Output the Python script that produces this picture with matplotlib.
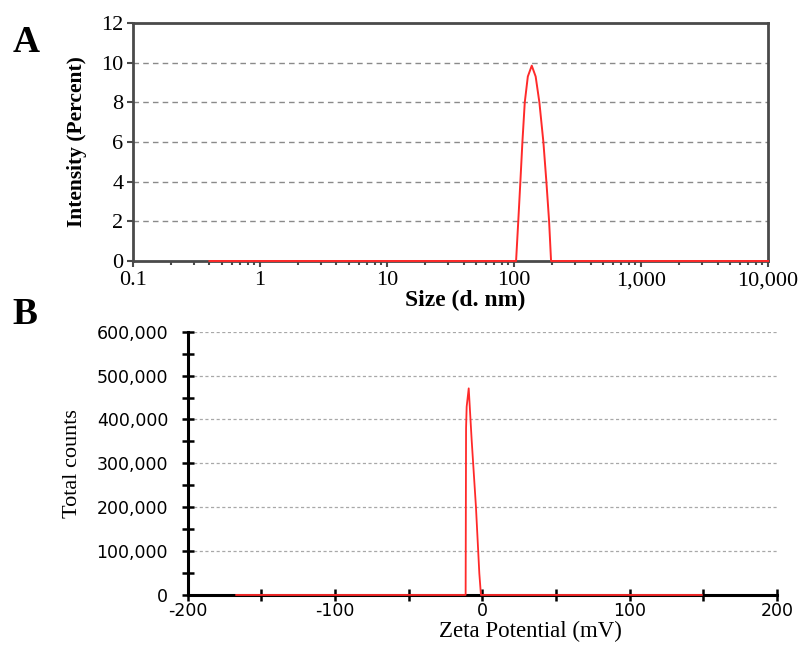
import numpy as np
import matplotlib
matplotlib.use('Agg')
import matplotlib.pyplot as plt
import matplotlib.ticker as ticker

plt.rcParams['axes.unicode_minus'] = False

# size distribution (d. nm vs intensity %)
size_nm = [0.4, 103.7, 108.1, 112.1, 116.3, 121.4, 128.3, 137.8, 147.9,
           158.2, 170.1, 179.6, 188.7, 195.5, 10000]
intensity = [0, 0, 2.1, 4.0, 6.0, 8.0, 9.3, 9.85, 9.3, 8.0, 6.0, 4.0, 2.0, 0, 0]

# zeta potential distribution (mV vs total counts)
zeta_mv = [-167, -11.3, -11.0, -10.6, -9.2, -7.2, -4.3, -2.0, -0.9, 149]
counts = [0, 0, 380000, 429000, 471000, 353000, 201000, 49000, 0, 0]

a_xticks = [0.1, 1, 10, 100, 1000, 10000]
a_xlabels = ['0.1', '1', '10', '100', '1,000', '10,000']
a_yticks = [0, 2, 4, 6, 8, 10, 12]
b_xticks = [-200, -100, 0, 100, 200]
b_yticks = [0, 100000, 200000, 300000, 400000, 500000, 600000]

serif = 'Liberation Serif'
red = '#ff2a2a'

fig = plt.figure(figsize=(8.05, 6.46), dpi=100)

# ---- panel A: size ----
ax1 = fig.add_axes([0.1652, 0.596, 0.789, 0.3684])
ax1.plot(size_nm, intensity, color=red, linewidth=1.4, zorder=3, clip_on=False)
ax1.set_xscale('log')
ax1.set_xlim(0.1, 10000)
ax1.set_ylim(0, 12)
ax1.set_xticks(a_xticks)
ax1.set_xticklabels(a_xlabels)
ax1.set_yticks(a_yticks)
ax1.xaxis.set_minor_locator(ticker.LogLocator(base=10, subs=np.arange(2, 10)))
ax1.xaxis.set_minor_formatter(ticker.NullFormatter())
for y in a_yticks[1:-1]:
    ax1.axhline(y, color='#8a8a8a', linestyle=(0, (4, 3)), linewidth=1.0, zorder=1)
for s in ax1.spines.values():
    s.set_color('#4a4a4a')
    s.set_linewidth(2.0)
ax1.tick_params(axis='both', which='major', direction='out', length=4, width=1.5,
                color='#4a4a4a')
ax1.tick_params(axis='x', which='major', pad=3.5)
ax1.tick_params(axis='y', which='major', pad=3)
ax1.tick_params(axis='x', which='minor', direction='out', length=3, width=1.5,
                color='#4a4a4a')
for lab in ax1.get_xticklabels() + ax1.get_yticklabels():
    lab.set_fontfamily(serif)
    lab.set_fontsize(16)
ax1.set_ylabel('Intensity (Percent)', fontfamily=serif, fontweight='bold', fontsize=15.5)
ax1.yaxis.set_label_coords(-0.072, 0.5)
ax1.set_xlabel('Size (d. nm)', fontfamily=serif, fontweight='bold', fontsize=17)
ax1.xaxis.set_label_coords(0.523, -0.122)

# ---- panel B: zeta potential ----
ax2 = fig.add_axes([0.233, 0.079, 0.7322, 0.4075])
ax2.plot(zeta_mv, counts, color=red, linewidth=1.3, zorder=3, clip_on=False)
ax2.set_xlim(-200, 200)
ax2.set_ylim(0, 600000)
ax2.set_xticks(b_xticks)
ax2.set_yticks(b_yticks)
ax2.xaxis.set_minor_locator(ticker.MultipleLocator(50))
ax2.yaxis.set_minor_locator(ticker.MultipleLocator(50000))
ax2.yaxis.set_major_formatter(ticker.StrMethodFormatter('{x:,.0f}'))
for y in b_yticks[1:]:
    ax2.axhline(y, color='#a8a8a8', linestyle=(0, (2.5, 2)), linewidth=0.9, zorder=1)
ax2.spines['top'].set_visible(False)
ax2.spines['right'].set_visible(False)
for side in ['left', 'bottom']:
    ax2.spines[side].set_color('black')
    ax2.spines[side].set_linewidth(2.2)
ax2.tick_params(axis='both', which='both', direction='inout', length=8, width=1.8,
                color='black', labelsize=12.5)
ax2.tick_params(axis='y', which='major', pad=10)
ax2.tick_params(axis='x', which='major', pad=1)
ax2.set_ylabel('Total counts', fontfamily=serif, fontsize=16)
ax2.yaxis.set_label_coords(-0.179, 0.5)
ax2.set_xlabel('Zeta Potential (mV)', fontfamily=serif, fontsize=16.5)
ax2.xaxis.set_label_coords(0.581, -0.098)

# panel letters
fig.text(0.016, 0.92, 'A', fontfamily=serif, fontweight='bold', fontsize=27,
         ha='left', va='baseline')
fig.text(0.016, 0.499, 'B', fontfamily=serif, fontweight='bold', fontsize=27,
         ha='left', va='baseline')

fig.savefig('out.png', dpi=100)
